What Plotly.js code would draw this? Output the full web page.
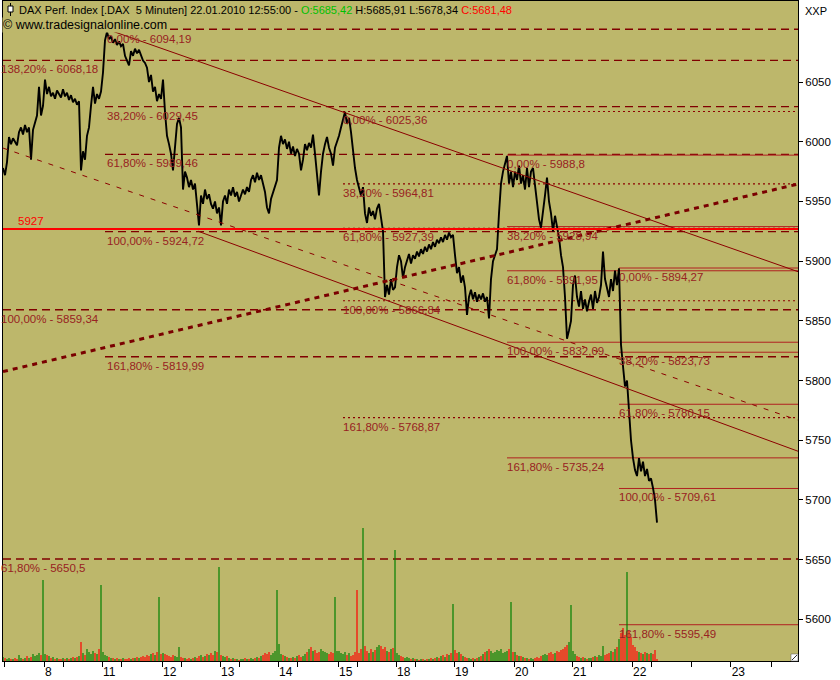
<!DOCTYPE html>
<html><head><meta charset="utf-8">
<script src="https://cdn.plot.ly/plotly-3.0.1.min.js"></script>
<style>html,body{margin:0;padding:0;background:#fff}#chart{width:840px;height:680px}</style>
</head><body><div id="chart"></div>
<script>
// ---------- DATA ----------
const dayLabels = ['7','8','11','12','13','14','15','18','19','20','21','22'];

// 5-minute closes (sampled), one array per trading day (Jan 2010)
const close_0107 = [5978,5972,5983,6004,5998,6003,6000,5997,6008,6012,6006,6014,6008,6012,5985,6010,6016,6022,6046,6022,6030];
const close_0108 = [6052,6040,6046,6038,6041,6036,6043,6040,6037,6044,6038,6041,6035,6039,6033,6036,6031,6034,5976,5992,5985,6005,6012,6030,6046,6032,6040,6036,6042];
const close_0111 = [6058,6085,6092,6086,6088,6083,6086,6081,6084,6080,6082,6072,6068,6064,6076,6072,6078,6074,6077,6072,6068,6066,6062,6050,6056,6042,6046,6034,6040,6036];
const close_0112 = [6052,6025,6005,5998,5990,5976,5995,6015,6020,6012,5960,5975,5970,5962,5968,5960,5965,5945,5930,5955,5948,5960,5952,5956,5948,5944,5950,5940,5945];
const close_0113 = [5930,5950,5955,5948,5960,5955,5962,5954,5958,5950,5955,5960,5956,5962,5958,5968,5972,5966,5974,5968,5972,5964,5958,5945,5940,5952,5958,5962,5968];
const close_0114 = [5995,6005,5998,6002,5994,6000,5990,5996,5988,5994,5990,5976,5985,5998,5993,5999,5995,6006,5990,5970,5955,5975,5990,5998,6004,5995,5990,5980,5995,6000];
const close_0115 = [6005,6012,6018,6025,6015,6020,6008,5990,5978,5968,5962,5955,5962,5940,5932,5945,5938,5942,5935,5944,5948,5938,5925,5870,5880,5872,5885,5876,5878];
const close_0118 = [5895,5905,5900,5886,5895,5900,5906,5898,5905,5902,5908,5904,5910,5906,5912,5908,5914,5910,5916,5912,5918,5915,5920,5916,5922,5918,5924,5920,5922];
const close_0119 = [5905,5890,5895,5882,5888,5878,5855,5870,5876,5868,5874,5866,5872,5868,5873,5866,5870,5852,5885,5900,5905,5910,5940,5965,5975,5982,5988,5965,5975,5962];
const close_0120 = [5975,5968,5980,5965,5972,5960,5978,5962,5975,5978,5965,5950,5935,5928,5940,5955,5970,5950,5940,5925,5938,5930,5920,5905,5895,5870,5835,5842,5850];
const close_0121 = [5880,5888,5870,5862,5875,5860,5868,5858,5866,5872,5860,5875,5865,5870,5880,5908,5885,5878,5870,5885,5875,5892,5880,5894,5830,5812,5795,5800,5770,5750];
const close_0122 = [5735,5725,5720,5735,5724,5732,5720,5726,5716,5718,5710,5700,5681];

// volume (same sampling)
const vol_0107 = [4,3,2,3,2,2,3,2,6,3,2,3,5,3,4,7,5,6,8,6,81];
const vol_0108 = [7,6,5,3,4,2,3,2,2,3,2,3,2,3,4,3,4,5,19,8,6,12,9,7,10,8,7,12,76];
const vol_0111 = [9,6,5,4,3,3,2,3,2,2,3,2,2,3,2,3,3,4,3,4,5,4,6,5,7,8,6,9,64,7];
const vol_0112 = [8,7,6,5,4,6,5,4,14,4,3,3,2,3,2,3,4,3,5,6,4,5,7,6,8,6,10,9,94];
const vol_0113 = [6,5,4,5,3,2,3,2,2,1,2,2,3,2,2,3,2,3,4,3,5,6,8,7,9,6,8,10,71];
const vol_0114 = [17,7,6,5,4,3,3,4,3,5,6,4,5,7,9,12,14,10,11,8,9,12,10,9,8,7,9,8,64,10];
const vol_0115 = [10,8,7,9,6,8,5,6,9,71,8,12,133,15,10,8,12,9,11,14,16,15,12,14,10,9,12,13,111];
const vol_0118 = [8,6,5,4,3,4,3,2,3,2,2,1,2,2,1,2,2,3,2,3,4,3,5,6,4,7,6,8,57];
const vol_0119 = [11,8,9,7,5,4,3,3,2,3,2,3,4,5,7,9,10,12,10,8,9,11,10,12,8,9,10,12,59,9];
const vol_0120 = [9,6,5,5,4,3,3,2,3,2,3,4,3,5,6,7,6,8,9,7,8,10,9,11,12,14,16,19,56];
const vol_0121 = [10,7,5,4,3,4,3,2,3,3,4,5,4,6,5,15,6,7,8,10,9,12,14,22,28,33,26,89,30,24];
const vol_0122 = [16,14,10,9,8,7,9,8,7,8,7,11,2];

// Fibonacci levels (percent) and prices
const fibLevels = [0, 38.2, 61.8, 100, 161.8];
const fibA = [6094.19, 6029.45, 5989.46, 5924.72, 5819.99];
const fibBLevels = [138.2, 100, 61.8];
const fibB = [6068.18, 5859.34, 5650.5];
const fibC = [6025.36, 5964.81, 5927.39, 5866.84, 5768.87];
const fibD = [5988.8, 5928.94, 5891.95, 5832.09, 5735.24];
const fibE = [5894.27, 5823.73, 5780.15, 5709.61, 5595.49];
const supportLevel = 5927;

// trend lines: [start price, end price]
const upperChannel = [6094.8, 5891.2];
const lowerChannel = [5925.1, 5740.8];
const midChannel = [5994.7, 5766.8];
const risingTrend = [5807.5, 5964.6];

// price axis labels
const yTicks = [5600, 5650, 5700, 5750, 5800, 5850, 5900, 5950, 6000, 6050];

// header quote
const quote = {O:'5685,42', H:'5685,91', L:'5678,34', C:'5681,48'};

// ---------- BUILD ----------
const closes = [close_0107,close_0108,close_0111,close_0112,close_0113,close_0114,close_0115,close_0118,close_0119,close_0120,close_0121,close_0122];
const vols = [vol_0107,vol_0108,vol_0111,vol_0112,vol_0113,vol_0114,vol_0115,vol_0118,vol_0119,vol_0120,vol_0121,vol_0122];

const px = [], py = [], vy = [], vc = [], starts = [];
let s = 0;
closes.forEach((arr, k) => {
  starts.push(s);
  arr.forEach((v, i) => { px.push(s + i); py.push(v); vy.push(vols[k][i]); });
  s += arr.length;
});
for (let i = 0; i < py.length; i++) {
  vc.push(i === 0 || py[i] >= py[i-1] ? '#008000' : '#FF0000');
}
const XEND = 397.5;

// ticks
const tickvals = [], ticktext = [];
for (let k = 1; k < closes.length; k++) { tickvals.push(starts[k] - 0.5); ticktext.push(dayLabels[k]); }
for (let k = 0; k < closes.length; k++) {
  const b = k === 0 ? starts[1] - 0.5 - 29.5 : starts[k] - 0.5;
  tickvals.push(b + 9.9); ticktext.push('');
}
const lastB = starts[closes.length - 1] - 0.5;
[[29.85, ''], [49.35, '23'], [69.65, '']].forEach(t => { tickvals.push(lastB + t[0]); ticktext.push(t[1]); });

const fmtNum = v => String(v).replace('.', ',');
const fmtPct = p => p.toFixed(2).replace('.', ',') + '%';

const LABEL_COLOR = '#982222';
const FONT = 'Liberation Sans, Arial, sans-serif';

const traces = [];
const annotations = [];

// volume
traces.push({type:'bar', x:px, y:vy, yaxis:'y2', marker:{color:vc, line:{width:0}}, width:0.6, hoverinfo:'skip'});

function fibSet(anchor, levels, values, line, xshift, firstYShift) {
  const x = [], y = [];
  values.forEach(v => { x.push(anchor, XEND, null); y.push(v, v, null); });
  traces.push({type:'scatter', mode:'lines', x, y, line, hoverinfo:'skip'});
  values.forEach((v, i) => {
    annotations.push({x: anchor + 0.5, y: v, xref:'x', yref:'y', xanchor:'left', yanchor:'middle',
      yshift: (i === 0 && firstYShift) ? firstYShift : -9, xshift: xshift || 0, borderpad:0,
      showarrow:false, text: fmtPct(levels[i]) + ' - ' + fmtNum(v), font:{family:FONT, size:11.5, color:LABEL_COLOR}});
  });
}
fibSet(0, fibBLevels, fibB, {color:'#800000', width:1.4, dash:'8px,5px'}, -4);
fibSet(51, fibLevels, fibA, {color:'#800000', width:1.4, dash:'8px,5px'}, 0, -10);
fibSet(170, fibLevels, fibC, {color:'#8B0000', width:1.2, dash:'2px,3px'}, -2);
fibSet(252, fibLevels, fibD, {color:'#B02020', width:1}, -2);
fibSet(308, fibLevels, fibE, {color:'#B02020', width:1}, -2);

// price
traces.push({type:'scatter', mode:'lines', x:px, y:py, line:{color:'#000', width:1.9}, hoverinfo:'skip'});

// trend lines
traces.push({type:'scatter', mode:'lines', x:[51, XEND], y:upperChannel, line:{color:'#8B0000', width:1}, hoverinfo:'skip'});
traces.push({type:'scatter', mode:'lines', x:[97.5, XEND], y:lowerChannel, line:{color:'#8B0000', width:1}, hoverinfo:'skip'});
traces.push({type:'scatter', mode:'lines', x:[0, XEND], y:midChannel, line:{color:'#8B0000', width:1, dash:'5px,7px'}, hoverinfo:'skip'});
traces.push({type:'scatter', mode:'lines', x:[0, XEND], y:risingTrend, line:{color:'#7A0000', width:3, dash:'5px,5px'}, hoverinfo:'skip'});
// support line
traces.push({type:'scatter', mode:'lines', x:[0, XEND], y:[supportLevel, supportLevel], line:{color:'#FF0000', width:2}, hoverinfo:'skip'});
annotations.push({x:6.5, y:supportLevel, xref:'x', yref:'y', xanchor:'left', yanchor:'middle', yshift:8, showarrow:false,
  text:String(supportLevel), font:{family:FONT, size:11.5, color:'#FF0000'}});

// header
const P = (pxv) => (pxv - 3) / 795, Q = (pyv) => (661 - pyv) / 660;
annotations.push({xref:'paper', yref:'paper', x:P(17), y:Q(10), xanchor:'left', yanchor:'middle', showarrow:false,
  font:{family:FONT, size:11, color:'#000'},
  text:'DAX Perf. Index [.DAX\u00a0\u00a05 Minuten] 22.01.2010 12:55:00 - <span style="color:#00C000">O:' + quote.O +
       '</span> H:' + quote.H + ' L:' + quote.L + ' <span style="color:#FF0000">C:' + quote.C + '</span>'});
annotations.push({xref:'paper', yref:'paper', x:P(2), y:Q(25.5), xanchor:'left', yanchor:'middle', showarrow:false,
  bgcolor:'#BDB76B', borderpad:0, font:{family:FONT, size:12.5, color:'#000'}, text:'\u00a9 www.tradesignalonline.com'});
annotations.push({xref:'paper', yref:'paper', x:P(803), y:Q(11), xanchor:'left', yanchor:'middle', showarrow:false,
  font:{family:FONT, size:11, color:'#000'}, text:'XXP'});

const shapes = [
  {type:'line', xref:'paper', yref:'paper', x0:P(10.5), x1:P(10.5), y0:Q(3), y1:Q(16), line:{color:'#000', width:1}},
  {type:'rect', xref:'paper', yref:'paper', x0:P(8), x1:P(13), y0:Q(6), y1:Q(12), fillcolor:'#fff', line:{color:'#000', width:1}},
  {type:'rect', xref:'paper', yref:'paper', x0:P(791), x1:P(798), y0:Q(654), y1:Q(661), fillcolor:'#fff', line:{color:'#555', width:0.5}},
  {type:'line', xref:'paper', yref:'paper', x0:P(792), x1:P(797), y0:Q(660), y1:Q(655), line:{color:'#333', width:1}}
];

const layout = {
  width:840, height:680, margin:{l:3, r:42, t:1, b:19, pad:0},
  paper_bgcolor:'#ffffff', plot_bgcolor:'#BDB76B',
  showlegend:false, hovermode:false,
  font:{family:FONT, size:11, color:'#000'},
  xaxis:{range:[0, XEND], showgrid:false, zeroline:false, showline:true, linecolor:'#000', linewidth:1, mirror:true,
    ticks:'outside', ticklen:5, tickcolor:'#000', tickmode:'array', tickvals, ticktext,
    ticklabelposition:'outside right', tickfont:{family:FONT, size:12, color:'#000'}},
  yaxis:{range:[5565.1, 6117.9], side:'right', showgrid:false, zeroline:false, showline:true, linecolor:'#000', mirror:true,
    ticks:'outside', ticklen:4, tickcolor:'#000', tickmode:'array', tickvals:yTicks, ticktext:yTicks.map(String),
    tickfont:{family:FONT, size:11.5, color:'#000'}},
  yaxis2:{range:[0, 660], overlaying:'y', visible:false, fixedrange:true},
  annotations, shapes
};

Plotly.newPlot('chart', traces, layout, {staticPlot:true, displayModeBar:false});
</script></body></html>
